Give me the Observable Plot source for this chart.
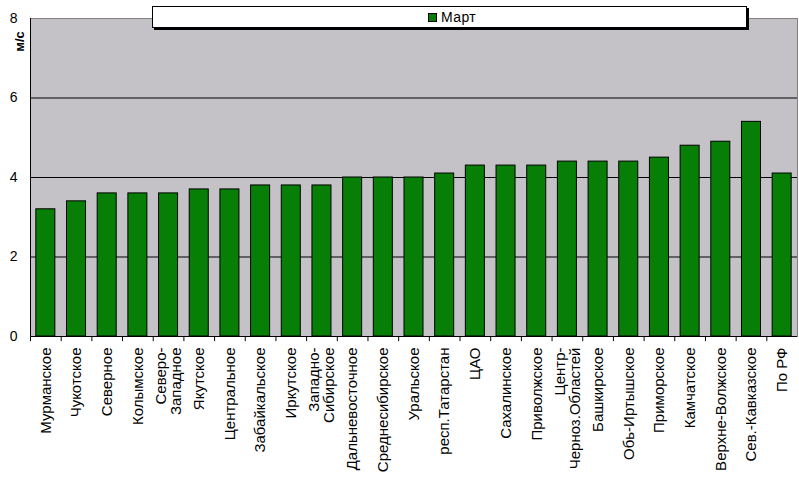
<!DOCTYPE html>
<html><head><meta charset="utf-8">
<script src="https://cdn.jsdelivr.net/npm/d3@7"></script>
<script src="https://cdn.jsdelivr.net/npm/@observablehq/plot@0.6"></script>
<style>
body{margin:0;background:#fff;}
#wrap{position:relative;width:799px;height:484px;font-family:Arial,"Liberation Sans",sans-serif;}
#legend{position:absolute;left:152px;top:6px;width:593px;height:20px;background:#fff;border:1px solid #000;box-shadow:2px 2px 0 #000;}
#legend .sw{position:absolute;left:275px;top:6px;width:7px;height:7px;background:#077F07;border:1px solid #000;}
#legend .lb{position:absolute;left:288px;top:2px;font-size:14px;line-height:16px;color:#000;letter-spacing:0.4px;}
#ylab{position:absolute;left:0;top:0;width:40px;height:16px;line-height:16px;text-align:center;font-weight:bold;font-size:13px;color:#000;transform-origin:20px 8px;transform:translate(0px,33.5px) rotate(-90deg);}
svg{overflow:visible;}
svg text.xl{letter-spacing:0.8px;}
</style>
</head><body>
<div id="wrap"><div id="chart"></div>
<div id="legend"><div class="sw"></div><div class="lb"></div></div>
<div id="ylab"></div>
</div>
<script>
const regions = ["Мурманское","Чукотское","Северное","Колымское","Северо-\nЗападное","Якутское","Центральное","Забайкальское","Иркутское","Западно-\nСибирское","Дальневосточное","Среднесибирское","Уральское","респ.Татарстан","ЦАО","Сахалинское","Приволжское","Центр-\nЧерноз.Областей","Башкирское","Обь-Иртышское","Приморское","Камчатское","Верхне-Волжское","Сев.-Кавказское","По РФ"];
const march = [3.2,3.4,3.6,3.6,3.6,3.7,3.7,3.8,3.8,3.8,4.0,4.0,4.0,4.1,4.3,4.3,4.3,4.4,4.4,4.4,4.5,4.8,4.9,5.4,4.1];
const yTicks = [0,2,4,6,8];
const gridValues = [2,4,6];
const seriesName = "Март";
const yLabel = "м/с";

document.querySelector("#legend .lb").textContent = seriesName;
document.getElementById("ylab").textContent = yLabel;

const data = regions.map((r,i)=>({region:r, value:march[i]}));
const W = 799, H = 484, mL = 30, mR = 2, mT = 18, mB = 148;
const step = (W - mL - mR) / regions.length;

const chart = Plot.plot({
  width: W, height: H,
  marginLeft: mL, marginRight: mR, marginTop: mT, marginBottom: mB,
  style: {fontFamily: "Arial, 'Liberation Sans', sans-serif", fontSize: "14px", color: "#000", background: "transparent"},
  x: {domain: regions, paddingInner: 0.38, paddingOuter: 0.19, round: false, axis: null},
  y: {domain: [0, 8], ticks: yTicks, tickSize: 0, tickPadding: 13, label: null},
  marks: [
    Plot.frame({fill: "#C4C2C6", stroke: "#808080"}),
    Plot.ruleY(gridValues, {stroke: "#000"}),
    Plot.barY(data, {x: "region", y: "value", fill: "#077F07", stroke: "#000", strokeWidth: 1}),
    Plot.ruleY([0], {stroke: "#000"}),
    Plot.ruleX([regions[0]], {dx: -step/2, y1: 0, y2: 8, stroke: "#000"}),
    Plot.ruleX(regions, {x: d => d, dx: -step/2, y1: 0, y2: -0.13, stroke: "#000"}),
    Plot.text(data, {x: "region", y: 0, text: "region", rotate: -90, textAnchor: "end", lineAnchor: "middle", dy: 11, fontSize: 15, fill: "#000", className: "xl"})
  ]
});
document.getElementById("chart").appendChild(chart);
</script>
</body></html>
